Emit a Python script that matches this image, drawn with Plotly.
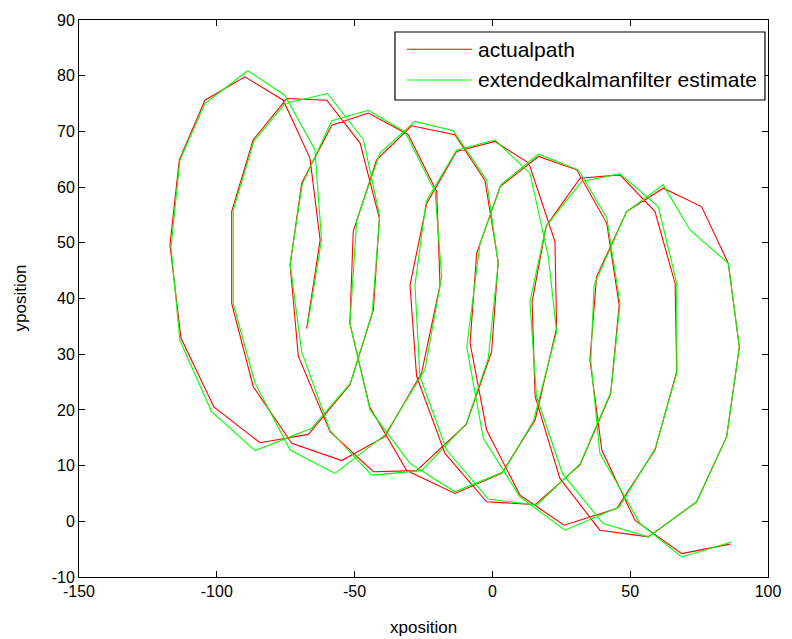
import plotly.graph_objects as go

# actual path (red)
actual_x = [-67.4, -62.5, -66.2, -75.9, -89.8, -104.3, -113.6, -117.0, -113.0, -101.0,
            -84.3, -66.8, -51.7, -43.2, -41.0, -48.0, -60.1, -74.6, -86.8, -94.6,
            -94.6, -86.8, -72.8, -54.7, -39.0, -25.7, -19.0, -20.2, -30.5, -45.0,
            -58.3, -69.2, -73.4, -70.4, -58.9, -43.2, -27.5, -9.5, -0.3, 2.1,
            -2.7, -13.6, -29.3, -42.0, -50.5, -51.7, -44.5, -31.1, -13.6, 3.4,
            15.5, 23.3, 22.7, 13.2, 0.9, -13.0, -23.8, -29.9, -27.5, -17.2,
            -2.1, 15.5, 31.8, 42.9, 46.0, 41.5, 30.6, 16.7, 2.8, -5.7,
            -8.1, -2.1, 10.0, 26.0, 45.1, 59.0, 66.9, 66.3, 59.0, 46.3,
            31.8, 19.5, 14.4, 15.5, 24.5, 39.0, 56.6, 74.1, 85.0, 89.6,
            85.6, 75.9, 62.0, 48.7, 37.8, 35.4, 39.7, 51.7, 68.7, 86.2]
actual_y = [34.6, 50.5, 65.2, 75.6, 79.8, 75.6, 64.9, 49.6, 32.9, 20.5,
            14.1, 15.6, 24.5, 37.9, 54.4, 67.9, 75.6, 75.9, 68.5, 55.6,
            39.1, 24.2, 14.0, 10.9, 15.2, 26.6, 42.4, 59.2, 69.4, 73.3,
            71.1, 60.7, 46.0, 29.6, 16.1, 8.9, 9.1, 17.4, 30.4, 46.6,
            61.2, 69.4, 71.0, 64.9, 52.0, 35.5, 20.5, 9.1, 5.0, 8.6,
            18.2, 34.7, 50.2, 64.3, 68.2, 66.4, 57.1, 42.4, 26.0, 12.2,
            3.5, 3.0, 10.1, 22.9, 38.8, 53.5, 63.1, 65.5, 60.1, 48.1,
            32.0, 16.4, 4.7, -0.7, 2.3, 12.8, 26.9, 42.7, 55.6, 62.2,
            61.6, 53.0, 39.4, 22.4, 7.7, -1.6, -2.8, 3.5, 15.2, 31.3,
            46.3, 56.5, 59.8, 55.6, 43.9, 29.0, 12.8, 0.2, -5.8, -4.1]

# extended kalman filter estimate (green)
ekf_x = [-67.0, -62.0, -64.4, -75.3, -88.8, -104.3, -113.4, -116.6, -113.4, -101.9,
         -86.1, -65.6, -51.5, -43.6, -40.9, -46.8, -59.8, -75.3, -86.5, -94.0,
         -94.0, -86.1, -73.4, -57.1, -39.0, -24.5, -18.4, -20.8, -31.7, -45.0,
         -58.3, -69.0, -73.4, -69.2, -58.9, -43.8, -25.7, -9.5, -1.5, 2.1,
         -2.1, -14.2, -28.1, -40.8, -49.2, -51.7, -44.4, -29.9, -13.6, 4.0,
         14.8, 23.3, 20.3, 13.6, 0.9, -13.0, -24.0, -28.1, -26.3, -16.6,
         -1.5, 16.1, 31.8, 43.0, 46.3, 41.5, 31.2, 16.7, 3.2, -4.5,
         -9.3, -3.3, 10.0, 26.3, 46.1, 59.0, 66.9, 66.9, 60.2, 46.3,
         32.4, 19.5, 13.6, 16.0, 25.5, 40.2, 56.6, 74.1, 85.0, 89.6,
         85.6, 71.7, 62.0, 48.7, 36.9, 35.7, 39.0, 53.6, 68.7, 86.8]
ekf_y = [35.3, 50.5, 66.7, 76.5, 80.9, 75.0, 64.8, 49.2, 32.5, 19.7,
         12.7, 16.7, 24.8, 37.5, 54.8, 68.5, 76.8, 75.0, 68.3, 55.9,
         39.0, 24.8, 12.8, 8.6, 15.5, 27.2, 43.9, 59.2, 69.9, 73.8,
         71.9, 60.5, 46.3, 30.4, 16.3, 8.3, 9.1, 17.5, 29.3, 46.3,
         61.3, 70.1, 71.8, 66.1, 54.1, 35.5, 20.0, 10.4, 5.3, 8.9,
         17.9, 34.0, 47.5, 62.5, 68.5, 66.6, 57.5, 42.4, 26.0, 12.8,
         4.0, 2.9, 10.3, 23.2, 39.1, 54.5, 63.1, 65.9, 60.5, 49.9,
         31.3, 14.9, 4.4, -1.6, 2.6, 13.0, 26.6, 42.7, 56.5, 62.4,
         61.0, 53.0, 39.4, 22.4, 8.5, -0.4, -2.8, 3.5, 15.2, 31.3,
         46.3, 52.3, 60.4, 55.6, 42.4, 28.8, 12.2, -0.4, -6.4, -3.7]

x_ticks = [-150, -100, -50, 0, 50, 100]
x_tick_labels = ["-150", "-100", "-50", "0", "50", "100"]
y_ticks = [-10, 0, 10, 20, 30, 40, 50, 60, 70, 80, 90]
y_tick_labels = ["-10", "0", "10", "20", "30", "40", "50", "60", "70", "80", "90"]

series_names = ["actualpath", "extendedkalmanfilter estimate"]
series_colors = ["#ff0000", "#00ff00"]

FONT = "Liberation Sans, Arial, sans-serif"

fig = go.Figure()
fig.add_trace(go.Scatter(x=actual_x, y=actual_y, mode="lines", name=series_names[0],
                         line=dict(color=series_colors[0], width=1.1), showlegend=False))
fig.add_trace(go.Scatter(x=ekf_x, y=ekf_y, mode="lines", name=series_names[1],
                         line=dict(color=series_colors[1], width=1.1), showlegend=False))

axis_common = dict(showline=True, linecolor="black", linewidth=1, mirror="allticks",
                   ticks="inside", ticklen=6, tickcolor="black", tickwidth=1,
                   showgrid=False, zeroline=False,
                   tickfont=dict(family=FONT, size=16, color="black"))

fig.update_xaxes(range=[-150, 100], tickmode="array", tickvals=x_ticks,
                 ticktext=x_tick_labels, **axis_common)
fig.update_yaxes(range=[-10, 90], tickmode="array", tickvals=y_ticks,
                 ticktext=y_tick_labels, **axis_common)

# legend drawn manually (MATLAB style box)
shapes = [dict(type="rect", xref="paper", yref="paper", x0=0.4586, x1=0.9956,
               y0=0.8564, y1=0.9785, line=dict(color="black", width=1.2),
               fillcolor="white", layer="above")]
annotations = []
row_y = [0.9474, 0.8923]
for name, col, yy in zip(series_names, series_colors, row_y):
    shapes.append(dict(type="line", xref="paper", yref="paper", x0=0.4760, x1=0.5704,
                       y0=yy, y1=yy, line=dict(color=col, width=1.1), layer="above"))
    annotations.append(dict(text=name, xref="paper", yref="paper", x=0.5762, y=yy,
                            xanchor="left", yanchor="middle", showarrow=False,
                            font=dict(family=FONT, size=21, color="black")))

annotations.append(dict(text="xposition", xref="paper", yref="paper", x=0.5, y=-0.0898,
                        xanchor="center", yanchor="middle", showarrow=False,
                        font=dict(family=FONT, size=17, color="black")))
annotations.append(dict(text="yposition", xref="paper", yref="paper", x=-0.0856, y=0.5,
                        xanchor="center", yanchor="middle", showarrow=False, textangle=-90,
                        font=dict(family=FONT, size=17, color="black")))

fig.update_layout(width=792, height=639, margin=dict(l=79, r=24, t=20, b=62),
                  paper_bgcolor="white", plot_bgcolor="white",
                  shapes=shapes, annotations=annotations, showlegend=False)

fig.write_html("out.html", include_plotlyjs=True, full_html=True,
               config={"displayModeBar": False})
